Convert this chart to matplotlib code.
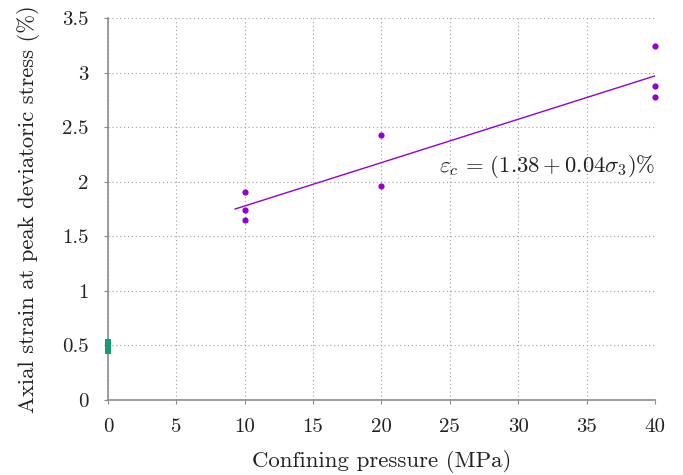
import matplotlib
matplotlib.use('Agg')
import matplotlib.pyplot as plt
from matplotlib.ticker import FuncFormatter

plt.rcParams['font.family'] = 'serif'
plt.rcParams['font.serif'] = ['cmr10']
plt.rcParams['mathtext.fontset'] = 'cm'
plt.rcParams['axes.formatter.use_mathtext'] = True

# measured points
pressure = [10, 10, 10, 20, 20, 40, 40, 40]
strain = [1.91, 1.74, 1.65, 2.43, 1.96, 3.24, 2.88, 2.78]

# fitted line end points
fit_x = [9.3, 40]
fit_y = [1.75, 2.97]

# green box at zero pressure
box_x = 0
box_low = 0.42
box_high = 0.56

purple = '#9400d3'
green = '#139c78'
gray = '#8c8c8c'

fig = plt.figure(figsize=(6.83, 4.75), dpi=100)
ax = fig.add_axes([0.158, 0.158, 0.801, 0.804])

ax.bar(box_x, box_high - box_low, bottom=box_low, width=0.45, color=green, zorder=5, clip_on=False)
ax.plot(fit_x, fit_y, color=purple, lw=1.0, zorder=3)
ax.scatter(pressure, strain, s=20, color=purple, zorder=4, linewidths=0, clip_on=False)

ax.text(40, 2.14, r'$\varepsilon_c \,=\, (1.38 + 0.04\sigma_3)\%$', ha='right', va='center',
        fontsize=16.3, color='#222222')

ax.set_xlim(0, 40)
ax.set_ylim(0, 3.5)
ax.set_xticks(range(0, 41, 5))
ax.set_yticks([0, 0.5, 1, 1.5, 2, 2.5, 3, 3.5])
fmt = FuncFormatter(lambda v, p: '%g' % v)
ax.xaxis.set_major_formatter(fmt)
ax.yaxis.set_major_formatter(fmt)

ax.grid(True, linestyle=(0, (1, 2.5)), color='#a0a0a0', lw=0.8)
ax.set_axisbelow(True)
for s in ['top', 'right']:
    ax.spines[s].set_visible(False)
for s in ['left', 'bottom']:
    ax.spines[s].set_color(gray)
    ax.spines[s].set_linewidth(1.2)
ax.tick_params(direction='out', length=3, color=gray, labelsize=15, labelcolor='#222222')
ax.tick_params(axis='x', pad=10)
ax.tick_params(axis='y', pad=11)

ax.set_xlabel('Confining pressure (MPa)', fontsize=16.5, color='#222222', labelpad=10)
ax.set_ylabel('Axial strain at peak deviatoric stress (%)', fontsize=16.3, color='#222222', labelpad=16)

fig.savefig('out.png', dpi=100)
